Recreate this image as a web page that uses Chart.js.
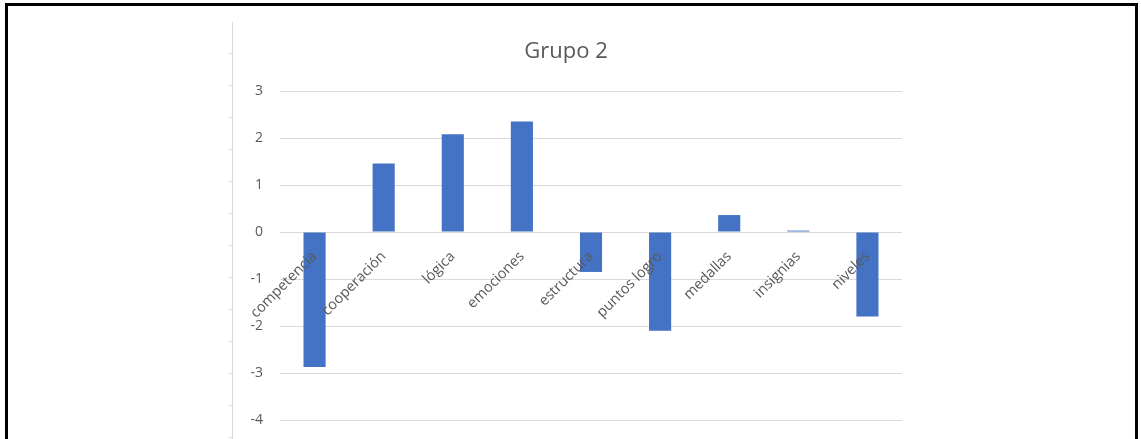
<!DOCTYPE html>
<html>
<head>
<meta charset="utf-8">
<script src="https://cdn.jsdelivr.net/npm/chart.js@4.4.1/dist/chart.umd.min.js"></script>
<style>
  html, body { margin: 0; padding: 0; background: #fff; overflow: hidden; }
  #wrap { position: relative; width: 1141px; height: 439px; }
  #frame { position: absolute; left: 5px; top: 3px; width: 1127px; height: 460px; border: 3px solid #000; }
  #ruler { position: absolute; left: 229px; top: 22px; width: 3px; height: 420px;
    border-right: 1px solid #d9d9d9;
    background: repeating-linear-gradient(to bottom, transparent 0, transparent 31px, #d9d9d9 31px, #d9d9d9 32px); }
  canvas { position: absolute; left: 0; top: 0; }
</style>
</head>
<body>
<div id="wrap">
  <div id="frame"></div>
  <div id="ruler"></div>
  <canvas id="myChart" width="1141" height="439"></canvas>
</div>
<script>
 // data
 var categories = ["competencia", "cooperación", "lógica", "emociones", "estructura", "puntos logro", "medallas", "insignias", "niveles"];
 var values = [-2.87, 1.46, 2.08, 2.35, -0.85, -2.10, 0.36, 0.03, -1.80];
 var yTicks = [3, 2, 1, 0, -1, -2, -3, -4];
 var chartTitle = "Grupo 2";

 var ctx = document.getElementById("myChart").getContext("2d");
 var myChart = new Chart(ctx, {
   type: "bar",
   data: {
     labels: categories,
     datasets: [
       {
         data: values,
         backgroundColor: "#4472C4",
         borderWidth: 0,
         barPercentage: 0.32,
         categoryPercentage: 1,
       },
     ],
   },
   options: {
     responsive: false,
     animation: false,
     layout: {
       autoPadding: false,
       padding: { left: 230, right: 239, top: 0, bottom: 19 },
     },
     plugins: {
       legend: { display: false },
       tooltip: { enabled: false },
       title: {
         display: true,
         text: chartTitle,
         color: "#595959",
         font: { family: "Open Sans", size: 22, weight: "normal" },
         padding: { top: 39, bottom: 25.6 },
       },
     },
     scales: {
       x: {
         // category labels sit on the zero line, like the original
         position: { y: 0 },
         grid: { display: false, drawTicks: false },
         border: { display: false },
         ticks: {
           z: 1, // labels over the bars
           autoSkip: false,
           minRotation: 45,
           maxRotation: 45,
           padding: 16,
           color: "#595959",
           font: { family: "Open Sans", size: 14.5 },
         },
         afterFit: function (scale) { scale.height = 0; },
       },
       y: {
         min: Math.min.apply(null, yTicks),
         max: Math.max.apply(null, yTicks),
         grid: { color: "#d9d9d9", lineWidth: 1, drawTicks: false },
         border: { display: false },
         ticks: {
           stepSize: 1,
           padding: 17,
           color: "#595959",
           font: { family: "Open Sans", size: 14 },
         },
         afterFit: function (scale) {
           scale.width = 50;
           scale.paddingTop = 0;
           scale.paddingBottom = 0;
         },
       },
     },
   },
 });
</script>
</body>
</html>
